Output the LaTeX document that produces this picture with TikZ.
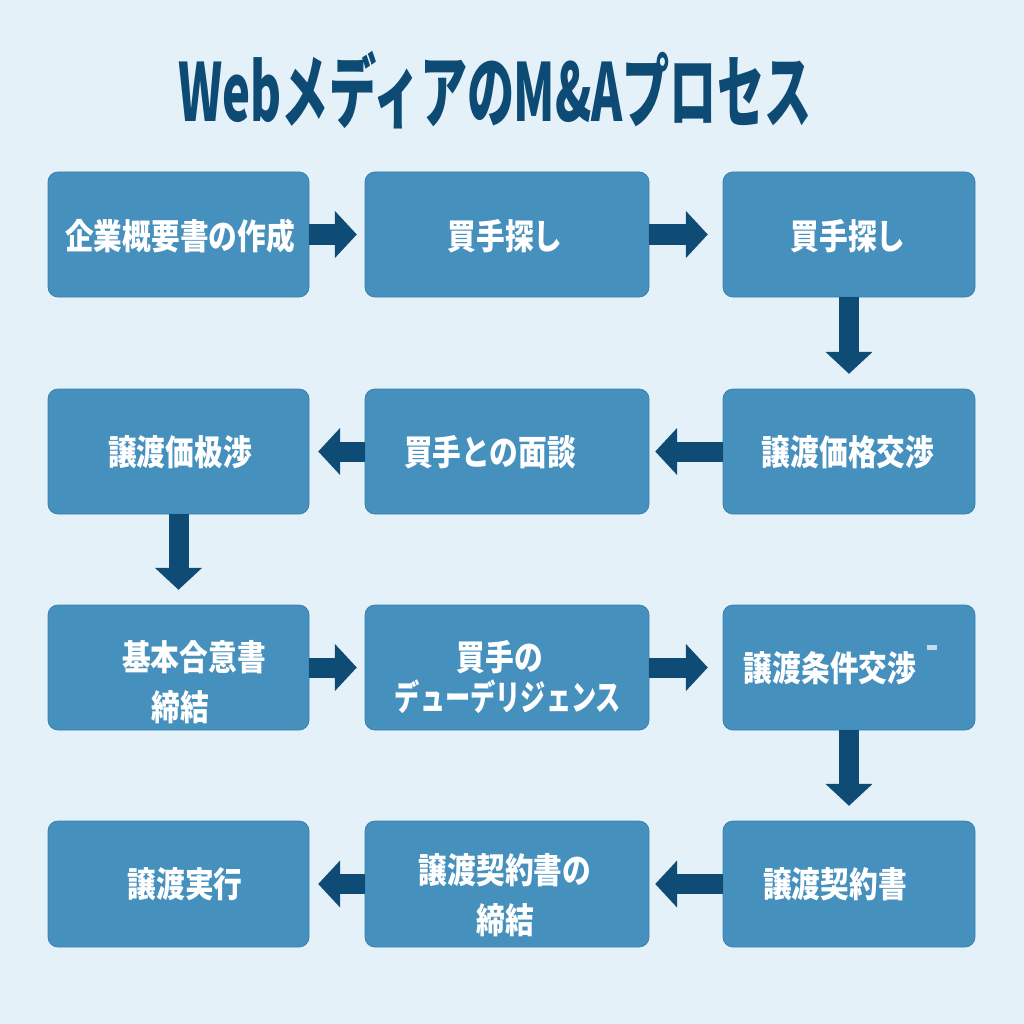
\documentclass[tikz,border=0pt]{standalone}
\usepackage{fontspec}
\newfontfamily\jp{Noto Sans CJK JP}
\usetikzlibrary{arrows.meta}
\definecolor{bg}{HTML}{E4F1F9}
\definecolor{boxfill}{HTML}{4690BE}
\definecolor{boxline}{HTML}{3A80AE}
\definecolor{arrowc}{HTML}{0F4C75}
\definecolor{titlec}{HTML}{0D4A74}
\definecolor{tickc}{HTML}{C6DCEA}
\tikzset{
  stepbox/.style={draw=boxline, line width=0.8pt, fill=boxfill, rounded corners=10pt, inner sep=0pt},
  lbl/.style={text=white, font=\jp\bfseries\fontsize{35}{40}\selectfont, xscale=0.82, align=center},
  bigarrow/.style={draw=arrowc, line width=20pt, line cap=butt, -{Triangle[width=46pt,length=22pt]}},
}
\newcommand{\mkbox}[5]{\path[stepbox] (#2,#3) rectangle (#4,#5); \coordinate (#1) at ({(#2+#4)/2},{(#3+#5)/2});
  \node[minimum width={(#4-#2)*1pt}, minimum height={(#5-#3)*1pt}] (#1n) at (#1) {};}
\begin{document}
\begin{tikzpicture}[x=1pt,y=-1pt]
\fill[bg] (0,0) rectangle (1024,1024);
\useasboundingbox (0,0) rectangle (1024,1024);
\node[text=titlec, font=\jp\bfseries\fontsize{80}{84}\selectfont, xscale=0.59] (title) at (495,90) {Webメディアの\kern-0.02emM\&Aプロセス};
% boxes
\mkbox{a}{48}{172}{309}{297}
\mkbox{b}{365}{172}{649}{297}
\mkbox{c}{723}{172}{975}{297}
\mkbox{d}{48}{389}{309}{514}
\mkbox{e}{365}{389}{649}{514}
\mkbox{f}{723}{389}{975}{514}
\mkbox{g}{48}{605}{309}{730}
\mkbox{h}{365}{605}{649}{730}
\mkbox{i}{723}{605}{975}{730}
\mkbox{j}{48}{821}{309}{947}
\mkbox{k}{365}{821}{649}{947}
\mkbox{l}{723}{821}{975}{947}
% labels
\node[lbl] (ta) at (180,236) {企業概要書の作成};
\node[lbl] (tb) at (505,236) {買手探し};
\node[lbl] (tc) at (848,236) {買手探し};
\node[lbl] (td) at (180,452) {譲渡価极渉};
\node[lbl] (te) at (490,452) {買手との面談};
\node[lbl] (tf) at (848,452) {譲渡価格交渉};
\node[lbl] (tg1) at (194,657) {基本合意書};
\node[lbl] (tg2) at (180,707) {締結};
\node[lbl] (th1) at (500,657) {買手の};
\node[lbl, xscale=0.72/0.82] (th2) at (508,697) {デューデリジェンス};
\node[lbl] (ti) at (830,668) {譲渡条件交渉};
\node[fill=tickc, minimum width=10pt, minimum height=5pt, inner sep=0pt] (tick) at (932,647) {};
\node[lbl] (tj) at (185,884) {譲渡実行};
\node[lbl] (tk1) at (505,870) {譲渡契約書の};
\node[lbl] (tk2) at (505,920) {締結};
\node[lbl] (tl) at (835,884) {譲渡契約書};
% arrows
\draw[bigarrow, shorten >=8pt] (an.east) -- (bn.west);
\draw[bigarrow, shorten >=15pt] (bn.east) -- (cn.west);
\draw[bigarrow, shorten >=15pt] (cn.south) -- (fn.north);
\draw[bigarrow, shorten >=6pt] (fn.west) -- (en.east);
\draw[bigarrow, shorten >=9pt] (en.west) -- (dn.east);
\draw[bigarrow, shorten >=15pt] (dn.south) -- (gn.north);
\draw[bigarrow, shorten >=8pt] (gn.east) -- (hn.west);
\draw[bigarrow, shorten >=15pt] (hn.east) -- (in.west);
\draw[bigarrow, shorten >=15pt] (in.south) -- (ln.north);
\draw[bigarrow, shorten >=6pt] (ln.west) -- (kn.east);
\draw[bigarrow, shorten >=9pt] (kn.west) -- (jn.east);
\end{tikzpicture}
\end{document}
